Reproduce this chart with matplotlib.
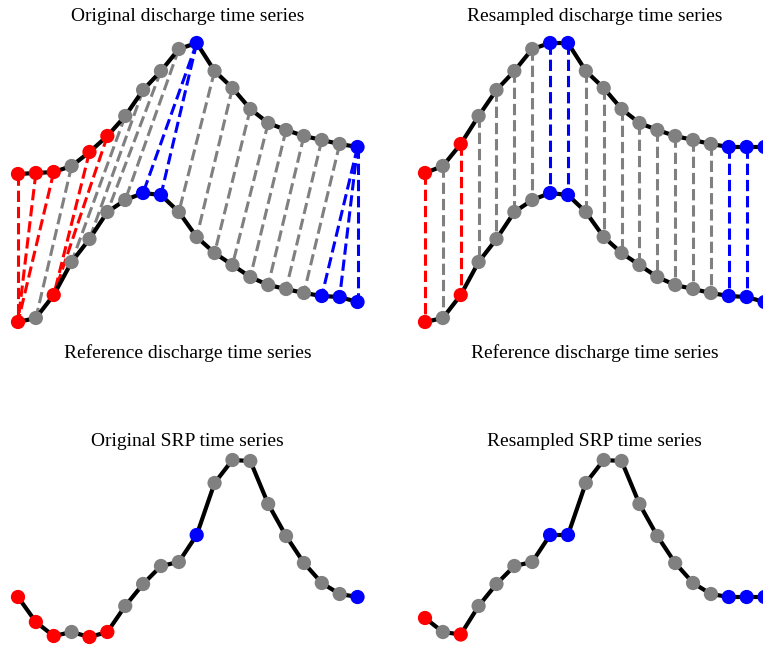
import matplotlib
matplotlib.use("Agg")
import matplotlib.pyplot as plt
from collections import Counter

# ---------------------------------------------------------------------------
# Data
# ---------------------------------------------------------------------------
# Discharge series (arbitrary units); the original is shown shifted upwards
discharge_original = [0.6, 0.7, 0.8, 1.4, 2.8, 4.4, 6.4, 9.0, 10.9, 13.1,
                      13.7, 10.9, 9.2, 7.1, 5.7, 5.0, 4.4, 4.0, 3.6, 3.3]
discharge_reference = [0.8, 1.2, 3.5, 6.8, 9.1, 11.8, 13.0, 13.7, 13.5, 11.8,
                       9.3, 7.7, 6.5, 5.3, 4.5, 4.1, 3.7, 3.4, 3.3, 2.8]
discharge_resampled = [0.7, 1.4, 3.6, 6.4, 9.0, 10.9, 13.1, 13.7, 13.7, 10.9,
                       9.2, 7.1, 5.7, 5.0, 4.4, 4.0, 3.6, 3.3, 3.3, 3.3]
discharge_offset = 15.0

# SRP series (arbitrary units)
srp_original = [5.3, 2.8, 1.4, 1.8, 1.3, 1.8, 4.4, 6.6, 8.4, 8.8,
                11.5, 16.7, 19.0, 18.9, 14.6, 11.4, 8.7, 6.7, 5.6, 5.3]
srp_resampled = [3.2, 1.8, 1.55, 4.4, 6.6, 8.4, 8.8, 11.5, 11.5, 16.7,
                 19.0, 18.9, 14.6, 11.4, 8.7, 6.7, 5.6, 5.3, 5.3, 5.3]

# DTW warping path: pairs (original index, reference index)
path_original = [0, 1, 2, 3, 4, 5, 6, 7, 8, 9, 10, 10,
                 11, 12, 13, 14, 15, 16, 17, 18, 19, 19, 19]
path_reference = [0, 0, 0, 1, 2, 2, 3, 4, 5, 6, 7, 8,
                  9, 10, 11, 12, 13, 14, 15, 16, 17, 18, 19]

titles_top = ["Original discharge time series", "Resampled discharge time series"]
label_top = "Reference discharge time series"
titles_bottom = ["Original SRP time series", "Resampled SRP time series"]

# ---------------------------------------------------------------------------
# Colour classes from the warping path
#   red  : several original points collapse onto one reference point
#   blue : one original point is stretched over several reference points
# ---------------------------------------------------------------------------
n_orig = Counter(path_original)
n_ref = Counter(path_reference)


def pair_colour(i, j):
    if n_ref[j] > 1:
        return "red"
    if n_orig[i] > 1:
        return "blue"
    return "gray"


orig_colours = ["gray"] * len(discharge_original)
ref_colours = ["gray"] * len(discharge_reference)
for i, j in zip(path_original, path_reference):
    c = pair_colour(i, j)
    if c != "gray":
        orig_colours[i] = c
        ref_colours[j] = c

# ---------------------------------------------------------------------------
# Figure layout (pixel based)
# ---------------------------------------------------------------------------
W, H, DPI = 763, 648, 100
plt.rcParams["font.family"] = ["Liberation Serif", "DejaVu Serif"]
fig = plt.figure(figsize=(W / DPI, H / DPI), dpi=DPI)


def add_axes_px(left, top, width, height):
    return fig.add_axes([left / W, 1 - (top + height) / H, width / W, height / H])


def clean(ax):
    for s in ax.spines.values():
        s.set_visible(False)
    ax.set_xticks([])
    ax.set_yticks([])
    ax.patch.set_alpha(0)


def draw_series(ax, y, colours):
    x = list(range(len(y)))
    ax.plot(x, y, color="black", lw=3, zorder=2, clip_on=False)
    ax.scatter(x, y, c=colours, s=105, edgecolors="none", zorder=3, clip_on=False)


step = 17.87
col_left = [18 - 0.5 * step, 425 - 0.5 * step]
ax_w = 20 * step

# top row: discharge with warping links
for k in range(2):
    ax = add_axes_px(col_left[k], 29, ax_w, 303)
    clean(ax)
    ax.set_xlim(-0.5, 19.5)
    ax.set_ylim(-0.2, 30.1)
    if k == 0:
        for i, j in zip(path_original, path_reference):
            ax.plot([i, j], [discharge_original[i] + discharge_offset,
                             discharge_reference[j]],
                    ls="--", lw=2.2, color=pair_colour(i, j), zorder=1,
                    clip_on=False)
        draw_series(ax, [v + discharge_offset for v in discharge_original],
                    orig_colours)
    else:
        for j in range(len(discharge_reference)):
            ax.plot([j, j], [discharge_resampled[j] + discharge_offset,
                             discharge_reference[j]],
                    ls="--", lw=2.2, color=ref_colours[j], zorder=1,
                    clip_on=False)
        draw_series(ax, [v + discharge_offset for v in discharge_resampled],
                    ref_colours)
    draw_series(ax, discharge_reference, ref_colours)
    ax.set_title(titles_top[k], fontsize=14)
    ax.set_xlabel(label_top, fontsize=14, labelpad=8.5)

# bottom row: SRP
for k in range(2):
    ax = add_axes_px(col_left[k], 454, ax_w, 194)
    clean(ax)
    ax.set_xlim(-0.5, 19.5)
    ax.set_ylim(0.2, 19.6)
    if k == 0:
        draw_series(ax, srp_original, orig_colours)
    else:
        draw_series(ax, srp_resampled, ref_colours)
    ax.set_title(titles_bottom[k], fontsize=14)

fig.savefig("out.png", dpi=DPI, facecolor="white")
